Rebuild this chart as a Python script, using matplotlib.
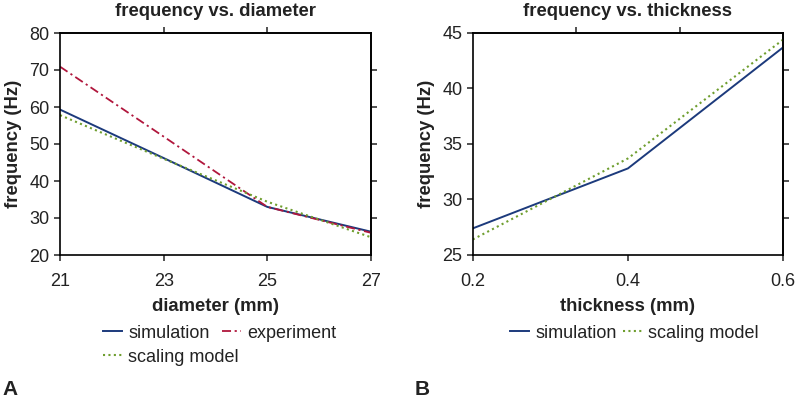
import matplotlib
matplotlib.use("Agg")
import matplotlib.pyplot as plt
import numpy as np

plt.rcParams['font.family'] = ['Liberation Sans', 'DejaVu Sans']

# panel A: frequency vs. diameter
diameter = [21, 23, 25, 27]
sim_a = [59.3, 46.2, 33.0, 26.3]
exp_a = [70.9, 52.0, 33.0, 26.0]
scal_a = [57.8, 46.0, 34.4, 24.8]

# panel B: frequency vs. thickness
thickness = [0.2, 0.4, 0.6]
sim_b = [27.4, 32.8, 43.7]
scal_b = [26.4, 33.7, 44.4]

c_sim = '#1c3a7c'
c_exp = '#b0163c'
c_scal = '#6f9e2f'
txt = '#222222'

fig = plt.figure(figsize=(7.96, 4.0), dpi=100)
axA = fig.add_axes([0.0754, 0.3625, 0.3906, 0.555])
axB = fig.add_axes([0.594, 0.3625, 0.3897, 0.555])

leg_kw = dict(frameon=False, fontsize=13, handlelength=1.05, handletextpad=0.35,
              labelcolor=txt, borderpad=0, borderaxespad=0)


def style(ax):
    for s in ax.spines.values():
        s.set_linewidth(1.2)
    ax.tick_params(direction='out', length=4.5, width=1.1, labelsize=13,
                   colors=txt, labelcolor=txt)
    ax.tick_params(axis='x', pad=8.5)
    ax.tick_params(axis='y', pad=3)


def frame_ticks(ax, xt, yt):
    top = ax.secondary_xaxis('top')
    top.set_xticks(xt)
    top.set_xticklabels([])
    right = ax.secondary_yaxis('right')
    right.set_yticks(yt)
    right.set_yticklabels([])
    for sec in (top, right):
        sec.tick_params(direction='out', length=4.5, width=1.1, colors=txt)
        for s in sec.spines.values():
            s.set_linewidth(1.2)


# ---- A
axA.plot(diameter, sim_a, color=c_sim, lw=1.4, label='simulation')
axA.plot(diameter, exp_a, color=c_exp, lw=1.3, ls=(0, (5, 2, 1.2, 2)), label='experiment')
axA.plot(diameter, scal_a, color=c_scal, lw=1.5, ls=(0, (1, 1.6)), label='scaling model')
axA.set_xlim(21, 27)
axA.set_ylim(20, 80)
axA.set_xticks([21, 23, 25, 27])
axA.set_yticks(np.arange(20, 81, 10))
style(axA)
frame_ticks(axA, [23, 25], [30, 40, 50, 60, 70])
axA.set_title('frequency vs. diameter', fontsize=13.3, fontweight='bold', y=1.0, pad=12.5, color=txt)
axA.set_xlabel('diameter (mm)', fontsize=13.3, fontweight='bold', labelpad=5.5, color=txt)
axA.set_ylabel('frequency (Hz)', fontsize=13.3, fontweight='bold', labelpad=5, color=txt)
h, l = axA.get_legend_handles_labels()
fig.legend(h[:2], l[:2], ncol=2, loc='center left',
           bbox_to_anchor=(103 / 796, 1 - 333 / 400), columnspacing=0.67, **leg_kw)
fig.legend(h[2:], l[2:], loc='center left',
           bbox_to_anchor=(103 / 796, 1 - 357 / 400), **leg_kw)

# ---- B
axB.plot(thickness, sim_b, color=c_sim, lw=1.4, label='simulation')
axB.plot(thickness, scal_b, color=c_scal, lw=1.5, ls=(0, (1, 1.6)), label='scaling model')
axB.set_xlim(0.2, 0.6)
axB.set_ylim(25, 45)
axB.set_xticks([0.2, 0.4, 0.6])
axB.set_yticks([25, 30, 35, 40, 45])
style(axB)
frame_ticks(axB, [0.2 + 0.4 / 3, 0.2 + 0.8 / 3], [25 + k * 20 / 6 for k in range(1, 6)])
axB.set_title('frequency vs. thickness', fontsize=13.3, fontweight='bold', y=1.0, pad=12.5, color=txt)
axB.set_xlabel('thickness (mm)', fontsize=13.3, fontweight='bold', labelpad=5.5, color=txt)
axB.set_ylabel('frequency (Hz)', fontsize=13.3, fontweight='bold', labelpad=5, color=txt)
hb, lb = axB.get_legend_handles_labels()
fig.legend(hb, lb, ncol=2, loc='center left',
           bbox_to_anchor=(510 / 796, 1 - 333 / 400), columnspacing=0.33, **leg_kw)

fig.text(0.003, 0.012, 'A', fontsize=15, fontweight='bold', color=txt)
fig.text(0.521, 0.012, 'B', fontsize=15, fontweight='bold', color=txt)

fig.savefig('out.png', dpi=100)
